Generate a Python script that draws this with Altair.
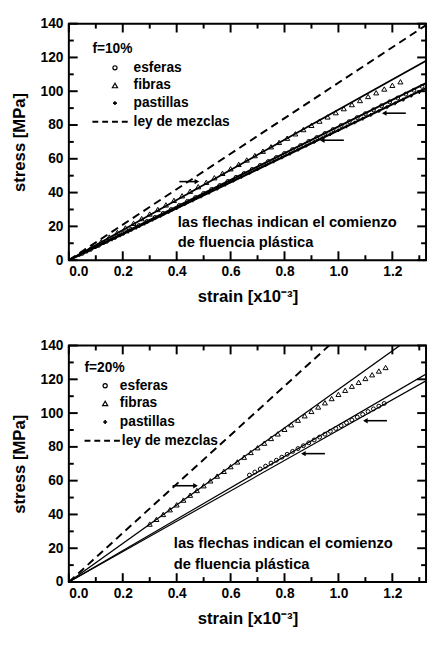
import altair as alt
import pandas as pd

# ---------------- data ----------------
x_ticks = [0.0, 0.2, 0.4, 0.6, 0.8, 1.0, 1.2]
x_minor = [0.1, 0.3, 0.5, 0.7, 0.9, 1.1, 1.3]
y_ticks = [0, 20, 40, 60, 80, 100, 120, 140]
y_minor = [10, 30, 50, 70, 90, 110, 130]

legend_names = ["esferas", "fibras", "pastillas", "ley de mezclas"]
note_lines = ["las flechas indican el comienzo", "de fluencia plástica"]

# ---- f = 10 % ----
f10_fib_strain = [0.06, 0.09, 0.12, 0.15, 0.18, 0.21, 0.24, 0.27, 0.30, 0.33,
                  0.36, 0.39, 0.42, 0.45, 0.48, 0.51, 0.54, 0.57, 0.60, 0.63,
                  0.66, 0.69, 0.72, 0.75, 0.78, 0.81, 0.84, 0.87, 0.90, 0.93,
                  0.96, 0.99, 1.02, 1.05, 1.08, 1.11, 1.14, 1.17, 1.20, 1.23]
f10_fib_stress = [5.5, 8.2, 10.9, 13.7, 16.4, 19.1, 21.8, 24.6, 27.3, 30.0,
                  32.7, 35.4, 38.1, 40.8, 43.5, 46.1, 48.8, 51.4, 54.1, 56.7,
                  59.3, 61.9, 64.5, 67.1, 69.7, 72.2, 74.8, 77.3, 79.8, 82.3,
                  84.8, 87.3, 89.7, 92.1, 94.5, 96.9, 99.1, 101.3, 103.5, 105.6]

f10_esf_strain = [0.05, 0.08, 0.11, 0.14, 0.17, 0.20, 0.23, 0.26, 0.29, 0.32,
                  0.35, 0.38, 0.41, 0.44, 0.47, 0.50, 0.53, 0.56, 0.59, 0.62,
                  0.65, 0.68, 0.71, 0.74, 0.77, 0.80, 0.83, 0.86, 0.89, 0.92,
                  0.95, 0.98, 1.01, 1.04, 1.07, 1.10, 1.13, 1.16, 1.19, 1.22,
                  1.25, 1.28, 1.31]
f10_esf_stress = [4.0, 6.3, 8.7, 11.1, 13.4, 15.8, 18.2, 20.5, 22.9, 25.3,
                  27.7, 30.0, 32.4, 34.8, 37.1, 39.5, 41.9, 44.2, 46.6, 49.0,
                  51.3, 53.7, 56.1, 58.4, 60.8, 63.2, 65.5, 67.9, 70.3, 72.6,
                  75.0, 77.3, 79.7, 82.0, 84.4, 86.7, 89.0, 91.4, 93.7, 96.0,
                  98.3, 100.6, 102.9]

f10_pas_strain = [0.04, 0.07, 0.10, 0.13, 0.16, 0.19, 0.22, 0.25, 0.28, 0.31,
                  0.34, 0.37, 0.40, 0.43, 0.46, 0.49, 0.52, 0.55, 0.58, 0.61,
                  0.64, 0.67, 0.70, 0.73, 0.76, 0.79, 0.82, 0.85, 0.88, 0.91,
                  0.94, 0.97, 1.00, 1.03, 1.06, 1.09, 1.12, 1.15, 1.18, 1.21,
                  1.24, 1.27, 1.30]
f10_pas_stress = [3.1, 5.4, 7.7, 10.0, 12.3, 14.6, 16.9, 19.3, 21.6, 23.9,
                  26.2, 28.5, 30.8, 33.1, 35.4, 37.7, 40.0, 42.3, 44.7, 47.0,
                  49.3, 51.6, 53.9, 56.2, 58.5, 60.8, 63.1, 65.4, 67.7, 70.0,
                  72.3, 74.6, 76.9, 79.2, 81.5, 83.8, 86.0, 88.3, 90.6, 92.8,
                  95.0, 97.3, 99.5]

f10_fit_strain = [0.0, 1.34]
f10_fit_fib = [0.0, 119.3]
f10_fit_esf = [0.0, 106.0]
f10_fit_pas = [0.0, 103.0]
f10_mix = [0.0, 140.7]

f10_arrow_tail = [0.41, 1.02, 1.25]
f10_arrow_tip = [0.475, 0.94, 1.17]
f10_arrow_stress = [46.5, 71.0, 87.0]
f10_arrow_dir = ["right", "left", "left"]

# ---- f = 20 % ----
f20_fib_strain = [0.300, 0.325, 0.350, 0.375, 0.400, 0.425, 0.450, 0.475, 0.500,
                  0.525, 0.550, 0.575, 0.600, 0.625, 0.650, 0.675, 0.700, 0.725,
                  0.750, 0.775, 0.800, 0.825, 0.850, 0.875, 0.900, 0.925, 0.950,
                  0.975, 1.000, 1.025, 1.050, 1.075, 1.100, 1.125, 1.150, 1.175]
f20_fib_stress = [34.3, 37.1, 40.0, 42.8, 45.7, 48.5, 51.4, 54.2, 57.0,
                  59.9, 62.7, 65.5, 68.3, 71.1, 73.9, 76.7, 79.5, 82.2,
                  85.0, 87.7, 90.4, 93.1, 95.8, 98.4, 101.0, 103.6, 106.1,
                  108.6, 111.1, 113.5, 115.9, 118.2, 120.5, 122.7, 124.9, 127.0]

f20_esf_strain = [0.67, 0.69, 0.71, 0.73, 0.75, 0.77, 0.79, 0.81, 0.83, 0.85,
                  0.87, 0.89, 0.91, 0.93, 0.95, 0.97, 0.99, 1.01, 1.03, 1.05,
                  1.07, 1.09, 1.11, 1.13, 1.15, 1.17]
f20_esf_stress = [63.3, 65.1, 66.9, 68.6, 70.4, 72.1, 73.9, 75.6, 77.3, 79.0,
                  80.7, 82.4, 84.1, 85.8, 87.5, 89.2, 90.9, 92.6, 94.3, 95.9,
                  97.6, 99.2, 100.9, 102.5, 104.1, 105.7]

f20_pas_strain = []
f20_pas_stress = []

f20_fit_strain = [0.0, 1.34]
f20_fit_fib = [0.0, 152.8]
f20_fit_esf = [0.0, 124.5]
f20_fit_pas = [0.0, 120.5]
f20_mix_strain = [0.0, 1.0]
f20_mix = [0.0, 145.0]

f20_arrow_tail = [0.385, 0.95, 1.18]
f20_arrow_tip = [0.47, 0.87, 1.10]
f20_arrow_stress = [57.0, 76.0, 95.5]
f20_arrow_dir = ["right", "left", "left"]

# ---------------- chart ----------------
W, H = 364, 241
XMAX, YMAX = 1.325, 140
FONT = "Liberation Sans"
TICK_COLOR = "black"

xscale = alt.Scale(domain=[0, XMAX], nice=False, zero=False)
yscale = alt.Scale(domain=[0, YMAX], nice=False, zero=False)
X = alt.X("strain:Q", scale=xscale,
          axis=alt.Axis(values=x_ticks, format=".1f", title="strain  [x10⁻³]",
                        labelPadding=5, titlePadding=10))
Y = alt.Y("stress:Q", scale=yscale,
          axis=alt.Axis(values=y_ticks, format="d", title="stress  [MPa]",
                        labelPadding=6, titlePadding=12))

PX_X = W / XMAX
PX_Y = H / YMAX


def one_row(text):
    return pd.DataFrame({"label": [text]})


def tick_layers():
    out = []
    for vals, ln in [(x_ticks, 9), (x_minor, 5)]:
        for base, sign in [(0.0, 1), (YMAX, -1)]:
            d = pd.DataFrame({"strain": vals,
                              "stress": [base] * len(vals),
                              "stress_end": [base + sign * ln / PX_Y] * len(vals)})
            out.append(alt.Chart(d).mark_rule(color=TICK_COLOR, strokeWidth=2)
                       .encode(x=X, y=Y, y2="stress_end:Q"))
    for vals, ln in [(y_ticks, 9), (y_minor, 5)]:
        for base, sign in [(0.0, 1), (XMAX, -1)]:
            d = pd.DataFrame({"stress": vals,
                              "strain": [base] * len(vals),
                              "strain_end": [base + sign * ln / PX_X] * len(vals)})
            out.append(alt.Chart(d).mark_rule(color=TICK_COLOR, strokeWidth=2)
                       .encode(x=X, x2="strain_end:Q", y=Y))
    return out


def panel(title, fib, esf, pas, fits, mix, arrows, leg, note, fit_w):
    layers = []
    mdf = pd.DataFrame({"strain": mix[0], "stress": mix[1]})
    layers.append(alt.Chart(mdf).mark_line(clip=True, color="black", strokeWidth=2,
                                           strokeDash=[8, 5]).encode(x=X, y=Y))
    for (sx, sy), w in zip(fits, fit_w):
        fdf = pd.DataFrame({"strain": sx, "stress": sy})
        layers.append(alt.Chart(fdf).mark_line(clip=True, color="black",
                                               strokeWidth=w).encode(x=X, y=Y))
    if len(esf[0]):
        layers.append(alt.Chart(pd.DataFrame({"strain": esf[0], "stress": esf[1]}))
                      .mark_point(shape="circle", filled=False, color="black",
                                  size=16, strokeWidth=1, clip=True).encode(x=X, y=Y))
    if len(pas[0]):
        layers.append(alt.Chart(pd.DataFrame({"strain": pas[0], "stress": pas[1]}))
                      .mark_point(shape="cross", filled=True, color="black",
                                  size=14, clip=True).encode(x=X, y=Y))
    if len(fib[0]):
        layers.append(alt.Chart(pd.DataFrame({"strain": fib[0], "stress": fib[1]}))
                      .mark_point(shape="triangle-up", filled=False, color="black",
                                  size=26, strokeWidth=1, clip=True).encode(x=X, y=Y))
    tail, tip, ast, adir = arrows
    rdf = pd.DataFrame({"strain": tail, "tip": tip, "stress": ast})
    layers.append(alt.Chart(rdf).mark_rule(color="black", strokeWidth=1.6)
                  .encode(x=X, x2="tip:Q", y=Y))
    hdf = pd.DataFrame({"strain": tip, "stress": ast, "dir": adir})
    layers.append(alt.Chart(hdf).mark_point(filled=True, color="black", size=30, opacity=1)
                  .encode(x=X, y=Y,
                          shape=alt.Shape("dir:N", legend=None,
                                          scale=alt.Scale(domain=["left", "right"],
                                                          range=["triangle-left", "triangle-right"]))))
    layers += tick_layers()

    tx, ty, rows, sym_x, txt_x, dash_x0, dash_x1 = leg
    layers.append(alt.Chart(one_row(title)).mark_text(
        align="left", baseline="middle", font=FONT, fontSize=14, fontWeight="bold",
        color="black").encode(text="label:N", x=alt.value(tx), y=alt.value(ty)))
    shapes = [("circle", False, 18), ("triangle-up", False, 28), ("cross", True, 16)]
    for name, (shp, fil, sz), ry in zip(legend_names[:3], shapes, rows[:3]):
        layers.append(alt.Chart(one_row(name)).mark_point(
            shape=shp, filled=fil, color="black", size=sz, strokeWidth=1.2, opacity=1)
            .encode(x=alt.value(sym_x), y=alt.value(ry)))
        layers.append(alt.Chart(one_row(name)).mark_text(
            align="left", baseline="middle", font=FONT, fontSize=14, fontWeight="bold",
            color="black").encode(text="label:N", x=alt.value(txt_x), y=alt.value(ry)))
    layers.append(alt.Chart(one_row(legend_names[3])).mark_rule(
        color="black", strokeWidth=2, strokeDash=[6, 4])
        .encode(x=alt.value(dash_x0), x2=alt.value(dash_x1), y=alt.value(rows[3])))
    layers.append(alt.Chart(one_row(legend_names[3])).mark_text(
        align="left", baseline="middle", font=FONT, fontSize=14, fontWeight="bold",
        color="black").encode(text="label:N", x=alt.value(dash_x1 + 2), y=alt.value(rows[3])))

    nx, ny1, ny2 = note
    for line, yy in zip(note_lines, [ny1, ny2]):
        layers.append(alt.Chart(one_row(line)).mark_text(
            align="left", baseline="middle", font=FONT, fontSize=15, fontWeight="bold",
            color="black").encode(text="label:N", x=alt.value(nx), y=alt.value(yy)))

    return alt.layer(*layers).properties(width=W, height=H)


top = panel(
    "f=10%",
    (f10_fib_strain, f10_fib_stress),
    (f10_esf_strain, f10_esf_stress),
    (f10_pas_strain, f10_pas_stress),
    [(f10_fit_strain, f10_fit_fib), (f10_fit_strain, f10_fit_esf), (f10_fit_strain, f10_fit_pas)],
    (f10_fit_strain, f10_mix),
    (f10_arrow_tail, f10_arrow_tip, f10_arrow_stress, f10_arrow_dir),
    (24, 26, [45, 63, 81, 100], 47, 66, 24, 64),
    (111, 202, 223),
    [1.8, 2.2, 2.2],
)

bottom = panel(
    "f=20%",
    (f20_fib_strain, f20_fib_stress),
    (f20_esf_strain, f20_esf_stress),
    (f20_pas_strain, f20_pas_stress),
    [(f20_fit_strain, f20_fit_fib), (f20_fit_strain, f20_fit_esf), (f20_fit_strain, f20_fit_pas)],
    (f20_mix_strain, f20_mix),
    (f20_arrow_tail, f20_arrow_tip, f20_arrow_stress, f20_arrow_dir),
    (16, 23, [41, 59, 78, 97], 37, 52, 16, 52),
    (107, 201, 223),
    [1.3, 1.2, 1.2],
)

chart = alt.vconcat(top, bottom, spacing=33).properties(
    padding={"left": 1, "top": 2, "right": 0, "bottom": 0}
).configure_view(
    stroke="black", strokeWidth=2
).configure_axis(
    grid=False, ticks=False, domain=False,
    labelFont=FONT, labelFontSize=14, labelFontWeight="bold", labelColor="black",
    titleFont=FONT, titleFontSize=17, titleFontWeight="bold", titleColor="black",
).configure_point(opacity=1)

chart.save("out.html", embed_options={"renderer": "svg", "actions": False})
